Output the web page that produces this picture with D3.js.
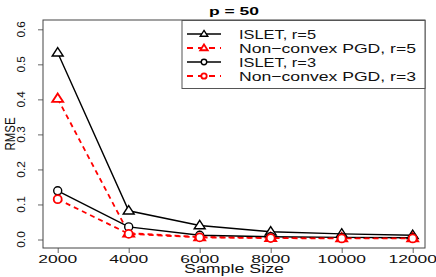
<!DOCTYPE html>
<html><head><meta charset="utf-8">
<script src="https://cdn.jsdelivr.net/npm/d3@7"></script>
<style>body{margin:0;background:#fff}svg{display:block}text{font-family:"Liberation Sans",Arial,sans-serif}</style>
</head><body>
<script>
const sampleSizes = [2000, 4000, 6000, 8000, 10000, 12000];
const isletR5 = [0.533, 0.082, 0.040, 0.022, 0.016, 0.012];
const pgdR5   = [0.402, 0.018, 0.007, 0.005, 0.004, 0.004];
const isletR3 = [0.139, 0.036, 0.012, 0.008, 0.006, 0.005];
const pgdR3   = [0.115, 0.016, 0.006, 0.004, 0.003, 0.003];
const yTicks = [0.0, 0.1, 0.2, 0.3, 0.4, 0.5, 0.6];
const yTickLabels = ["0.0", "0.1", "0.2", "0.3", "0.4", "0.5", "0.6"];
const seriesNames = ["ISLET, r=5", "Non\u2212convex PGD, r=5", "ISLET, r=3", "Non\u2212convex PGD, r=3"];
const title = "p = 50";
const xLabel = "Sample Size";
const yLabel = "RMSE";

const W = 436, H = 277;
const box = {l: 43, r: 425, t: 20, b: 248};
const svg = d3.select("body").append("svg").attr("width", W).attr("height", H);

const x = d3.scaleLinear().domain([2000, 12000]).range([57.7, 412.7]);
const y = d3.scaleLinear().domain([0, 0.6]).range([239.5, 29.3]);

const series = [
  {name: seriesNames[0], vals: isletR5, color: "#000", dash: null, shape: "tri", w: 1.4},
  {name: seriesNames[1], vals: pgdR5, color: "#ff0000", dash: "5,4", shape: "tri", w: 1.8},
  {name: seriesNames[2], vals: isletR3, color: "#000", dash: null, shape: "circ", w: 1.4},
  {name: seriesNames[3], vals: pgdR3, color: "#ff0000", dash: "5,4", shape: "circ", w: 1.8}
];

// axes
const yAxis = d3.axisLeft(y).tickValues(yTicks).tickSize(5).tickFormat((d, i) => yTickLabels[i]);
const gy = svg.append("g").attr("transform", `translate(${box.l},0)`).call(yAxis);
gy.select(".domain").remove();
gy.selectAll(".tick line").attr("stroke", "#666");
gy.selectAll(".tick text").remove();
yTicks.forEach((t, i) => {
  svg.append("text").attr("transform", `translate(24.5,${y(t)}) rotate(-90)`)
    .attr("text-anchor", "middle").attr("font-size", 10).attr("fill", "#111")
    .attr("textLength", 16.5).attr("lengthAdjust", "spacingAndGlyphs")
    .text(yTickLabels[i]);
});

const xAxis = d3.axisBottom(x).tickValues(sampleSizes).tickSize(5).tickFormat(d3.format("d"));
const gx = svg.append("g").attr("transform", `translate(0,${box.b})`).call(xAxis);
gx.select(".domain").remove();
gx.selectAll(".tick line").attr("stroke", "#666");
gx.selectAll(".tick text").remove();
sampleSizes.forEach(s => {
  const lab = String(s);
  svg.append("text").attr("x", x(s)).attr("y", 263).attr("text-anchor", "middle")
    .attr("font-size", 11.5).attr("fill", "#111")
    .attr("textLength", lab.length * 9.7).attr("lengthAdjust", "spacingAndGlyphs").text(lab);
});

// box
svg.append("rect").attr("x", box.l).attr("y", box.t).attr("width", box.r - box.l).attr("height", box.b - box.t)
  .attr("fill", "none").attr("stroke", "#444").attr("stroke-width", 1);

// lines and markers
const line = d3.line().x((d, i) => x(sampleSizes[i])).y(d => y(d));
function marker(g, shape, cx, cy, color, w, k) {
  if (shape === "tri") {
    const p = d3.path();
    p.moveTo(cx, cy - 5.2 * k); p.lineTo(cx + 5.5 * k, cy + 3.3 * k); p.lineTo(cx - 5.5 * k, cy + 3.3 * k); p.closePath();
    g.append("path").attr("d", p.toString()).attr("fill", "#fff").attr("stroke", color).attr("stroke-width", w);
  } else {
    g.append("circle").attr("cx", cx).attr("cy", cy).attr("r", 4 * k).attr("fill", "#fff").attr("stroke", color).attr("stroke-width", w);
  }
}
series.forEach(s => {
  const g = svg.append("g");
  g.append("path").attr("d", line(s.vals)).attr("fill", "none").attr("stroke", s.color)
    .attr("stroke-width", s.w).attr("stroke-dasharray", s.dash);
  s.vals.forEach((v, i) => marker(g, s.shape, x(sampleSizes[i]), y(v), s.color, s.w, 1));
});

// legend
const lg = svg.append("g");
lg.append("rect").attr("x", 182).attr("y", 20.5).attr("width", box.r - 182).attr("height", 68)
  .attr("fill", "#fff").attr("stroke", "#555").attr("stroke-width", 1);
series.forEach((s, i) => {
  const ry = 34 + i * 14;
  lg.append("line").attr("x1", 187).attr("x2", 221).attr("y1", ry).attr("y2", ry)
    .attr("stroke", s.color).attr("stroke-width", s.w).attr("stroke-dasharray", s.dash ? "6,5" : null);
  marker(lg, s.shape, 204, ry, s.color, s.w, 0.68);
  lg.append("text").attr("x", 239).attr("y", ry + 4.7).attr("font-size", 13).attr("fill", "#111")
    .attr("textLength", i % 2 === 0 ? 77 : 177).attr("lengthAdjust", "spacingAndGlyphs").text(s.name);
});

// titles
svg.append("text").attr("x", 234).attr("y", 15).attr("text-anchor", "middle").attr("font-weight", "bold")
  .attr("font-size", 10.8).attr("textLength", 50).attr("lengthAdjust", "spacingAndGlyphs").text(title);
svg.append("text").attr("x", 234).attr("y", 272.5).attr("text-anchor", "middle").attr("font-size", 12)
  .attr("fill", "#111").attr("textLength", 100).attr("lengthAdjust", "spacingAndGlyphs").text(xLabel);
svg.append("text").attr("transform", `translate(14.5,134) rotate(-90)`).attr("text-anchor", "middle")
  .attr("font-size", 15).attr("fill", "#111").attr("textLength", 33).attr("lengthAdjust", "spacingAndGlyphs").text(yLabel);
</script>
</body></html>
